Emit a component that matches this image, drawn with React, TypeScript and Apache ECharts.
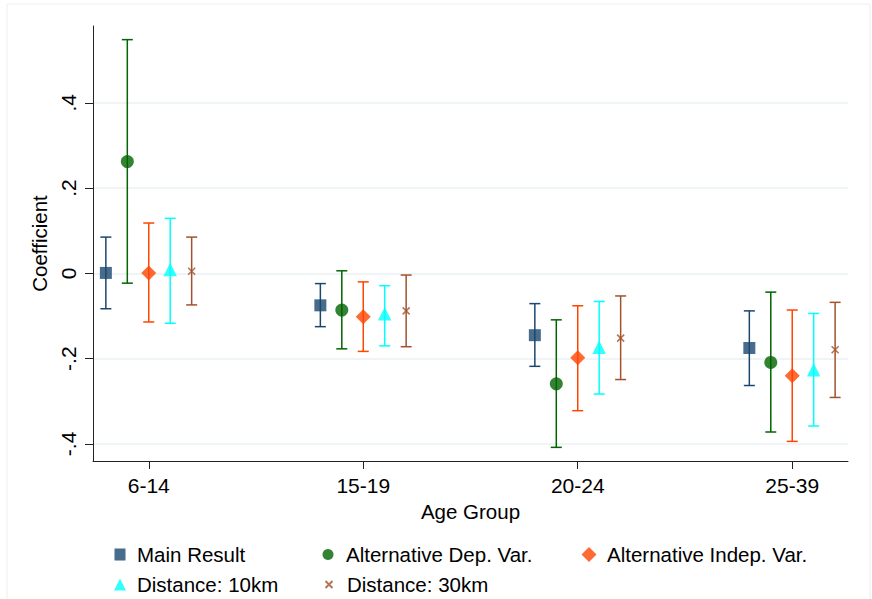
import React, { useEffect, useRef } from "react";
import * as echarts from "echarts";

const groups = ["6-14", "15-19", "20-24", "25-39"];
const seriesNames = [
  "Main Result",
  "Alternative Dep. Var.",
  "Alternative Indep. Var.",
  "Distance: 10km",
  "Distance: 30km",
];

const mainCoef = [0.001, -0.075, -0.145, -0.175];
const mainLo = [-0.083, -0.125, -0.218, -0.263];
const mainHi = [0.085, -0.024, -0.071, -0.088];

const depCoef = [0.262, -0.086, -0.259, -0.209];
const depLo = [-0.023, -0.177, -0.408, -0.372];
const depHi = [0.548, 0.006, -0.109, -0.044];

const indepCoef = [0.001, -0.102, -0.198, -0.24];
const indepLo = [-0.114, -0.183, -0.322, -0.394];
const indepHi = [0.118, -0.02, -0.076, -0.086];

const d10Coef = [0.009, -0.095, -0.173, -0.226];
const d10Lo = [-0.117, -0.17, -0.283, -0.358];
const d10Hi = [0.129, -0.029, -0.066, -0.094];

const d30Coef = [0.005, -0.088, -0.152, -0.179];
const d30Lo = [-0.074, -0.172, -0.249, -0.291];
const d30Hi = [0.085, -0.004, -0.053, -0.068];

const yTicks = [-0.4, -0.2, 0, 0.2, 0.4];
const xTicks = [1, 2, 3, 4];

const FONT = "'Liberation Sans', Arial, sans-serif";

export default function App() {
  const ref = useRef<HTMLDivElement>(null);
  useEffect(() => {
    if (!ref.current) return;
    const chart = echarts.init(ref.current, null, { renderer: "svg" });

    const specs = [
      { name: seriesNames[0], coef: mainCoef, lo: mainLo, hi: mainHi, color: "#1a476f", symbol: "rect", size: 12, off: -0.2, lw: 11, lh: 12 },
      { name: seriesNames[1], coef: depCoef, lo: depLo, hi: depHi, color: "#006400", symbol: "circle", size: 13, off: -0.1, lw: 11, lh: 11 },
      { name: seriesNames[2], coef: indepCoef, lo: indepLo, hi: indepHi, color: "#ff4500", symbol: "diamond", size: 15, off: 0, lw: 15, lh: 15 },
      { name: seriesNames[3], coef: d10Coef, lo: d10Lo, hi: d10Hi, color: "#00ffff", symbol: "triangle", size: 13.5, off: 0.1, lw: 12, lh: 12 },
      { name: seriesNames[4], coef: d30Coef, lo: d30Lo, hi: d30Hi, color: "#a0522d", symbol: "path://M0,0L10,10M10,0L0,10", size: 7, off: 0.2, lw: 7, lh: 7 },
    ];

    const series: any[] = [];
    specs.forEach((s) => {
      const color = s.color;
      series.push({
        type: "custom",
        name: s.name + " CI",
        silent: true,
        z: 2,
        data: groups.map((g, i) => [i + 1 + s.off, s.lo[i], s.hi[i]]),
        renderItem: (params: any, api: any) => {
          const x = api.value(0);
          const pLo = api.coord([x, api.value(1)]);
          const pHi = api.coord([x, api.value(2)]);
          const hw = 5.5;
          const st = { stroke: color, lineWidth: 1.5 };
          return {
            type: "group",
            children: [
              { type: "line", shape: { x1: pLo[0], y1: pLo[1], x2: pHi[0], y2: pHi[1] }, style: st },
              { type: "line", shape: { x1: pLo[0] - hw, y1: pLo[1], x2: pLo[0] + hw, y2: pLo[1] }, style: st },
              { type: "line", shape: { x1: pHi[0] - hw, y1: pHi[1], x2: pHi[0] + hw, y2: pHi[1] }, style: st },
            ],
          };
        },
      });
      const isX = s.symbol.startsWith("path://");
      series.push({
        type: "scatter",
        name: s.name,
        z: 3,
        symbol: s.symbol,
        symbolSize: s.size,
        itemStyle: isX
          ? { color: "rgba(0,0,0,0)", borderColor: color, borderWidth: 1.6 }
          : { color: color },
        data: groups.map((g, i) => [i + 1 + s.off, s.coef[i]]),
      });
    });

    const legendCenters = [
      { cx: 120, tx: 137, cy: 555 },
      { cx: 328, tx: 346, cy: 555 },
      { cx: 589, tx: 607, cy: 555 },
      { cx: 120, tx: 137, cy: 585 },
      { cx: 328, tx: 346, cy: 585 },
    ];

    const legends = specs.map((s, i) => {
      const p = legendCenters[i];
      const left = p.cx - s.lw / 2;
      const pad = p.tx - (left + s.lw + 5);
      return {
        data: [s.name],
        left: left,
        top: p.cy - 11,
        padding: 0,
        orient: "horizontal",
        selectedMode: false,
        itemWidth: s.lw,
        itemHeight: s.lh,
        textStyle: {
          fontFamily: FONT,
          fontSize: 20.5,
          color: "#000",
          padding: [0, 0, 0, pad],
        },
      };
    });

    chart.setOption({
      animation: false,
      backgroundColor: "#ffffff",
      graphic: [
        {
          type: "rect",
          shape: { x: 7, y: 4, width: 863, height: 600 },
          style: { fill: "none", stroke: "#eeeeee", lineWidth: 1 },
          silent: true,
          z: -10,
        },
      ],
      grid: { left: 93, right: 24, top: 26, bottom: 138, containLabel: false },
      legend: legends,
      xAxis: {
        type: "value",
        min: 0.74,
        max: 4.26,
        name: "Age Group",
        nameLocation: "middle",
        nameGap: 32,
        nameTextStyle: { fontFamily: FONT, fontSize: 20.5, color: "#000" },
        axisLine: { show: true, onZero: false, lineStyle: { color: "#222", width: 1 } },
        axisTick: { show: true, length: 8, customValues: xTicks, lineStyle: { color: "#222" } },
        axisLabel: {
          customValues: xTicks,
          fontFamily: FONT,
          fontSize: 21,
          color: "#000",
          margin: 14,
          formatter: (v: number) => groups[Math.round(v) - 1] ?? "",
        },
        splitLine: { show: false },
      },
      yAxis: {
        type: "value",
        min: -0.44,
        max: 0.58,
        name: "Coefficient",
        nameLocation: "middle",
        nameRotate: 90,
        nameGap: 37,
        nameTextStyle: { fontFamily: FONT, fontSize: 20.5, color: "#000" },
        axisLine: { show: true, onZero: false, lineStyle: { color: "#222", width: 1 } },
        axisTick: { show: true, length: 8, customValues: yTicks, lineStyle: { color: "#222" } },
        axisLabel: {
          customValues: yTicks,
          rotate: 90,
          fontFamily: FONT,
          fontSize: 21,
          color: "#000",
          margin: 14,
          formatter: (v: number) => {
            if (Math.abs(v) < 1e-9) return "0";
            const s = String(Math.round(Math.abs(v) * 10) / 10).replace(/^0/, "");
            return (v < 0 ? "-" : "") + s;
          },
        },
        splitLine: { show: true, lineStyle: { color: "#eaf2f3", width: 1.5 } },
      },
      series,
    });

    return () => chart.dispose();
  }, []);

  return (
    <div
      ref={ref}
      style={{ position: "absolute", left: 0, top: 0, width: 872, height: 599 }}
    />
  );
}
